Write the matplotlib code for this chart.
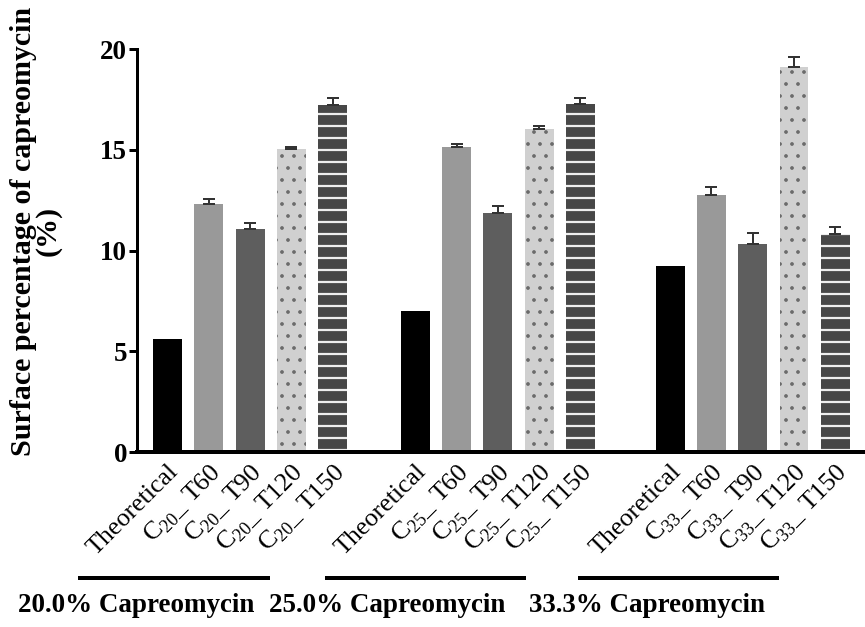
import matplotlib
matplotlib.use('Agg')
import matplotlib.pyplot as plt
import numpy as np

# data
groups = ['20.0% Capreomycin', '25.0% Capreomycin', '33.3% Capreomycin']
codes = ['20', '25', '33']
conditions = ['Theoretical', 'T60', 'T90', 'T120', 'T150']

theoretical = [5.6, 7.0, 9.23]
t60 = [12.29, 15.15, 12.77]
t90 = [11.07, 11.85, 10.34]
t120 = [15.04, 16.05, 19.09]
t150 = [17.22, 17.25, 10.80]

t60_err = [0.25, 0.15, 0.40]
t90_err = [0.28, 0.35, 0.51]
t120_err = [0.12, 0.15, 0.50]
t150_err = [0.33, 0.33, 0.38]

plt.rcParams['font.family'] = ['Liberation Serif', 'DejaVu Serif']
plt.rcParams['mathtext.fontset'] = 'custom'
plt.rcParams['mathtext.rm'] = 'Liberation Serif'

DPI = 72
fig = plt.figure(figsize=(865 / DPI, 627 / DPI), dpi=DPI)
ax = fig.add_axes([0.1584, 0.279, 1 - 0.1584, 0.6428])

group_start = [0, 6, 12.17]
width = 0.70

styles = [
    dict(color='#000000', linewidth=0),
    dict(color='#999999', linewidth=0),
    dict(color='#5e5e5e', linewidth=0),
    dict(facecolor='#d0d0d0', edgecolor='#6a6a6a', hatch='.', linewidth=0),
    dict(facecolor='#474747', edgecolor='#eeeeee', hatch='-', linewidth=0),
]
hatch_lw = [1.0, 1.0, 1.0, 1.3, 2.2]
values = [theoretical, t60, t90, t120, t150]
errors = [None, t60_err, t90_err, t120_err, t150_err]

xticks, xlabels = [], []
for k, cond in enumerate(conditions):
    xs = [g + k for g in group_start]
    with plt.rc_context({'hatch.linewidth': hatch_lw[k]}):
        ax.bar(xs, values[k], width, **styles[k])
    if errors[k] is not None:
        ax.errorbar(xs, values[k], yerr=[np.zeros(3), errors[k]], fmt='none',
                    ecolor='#333333', elinewidth=2, capsize=6, capthick=2)
    for gi, x in enumerate(xs):
        xticks.append(x)
        if cond == 'Theoretical':
            xlabels.append('Theoretical')
        else:
            xlabels.append('C$_{\\mathrm{%s}}$_ %s' % (codes[gi], cond))

ax.set_xticks(xticks)
ax.set_xticklabels(xlabels, rotation=45, ha='right', rotation_mode='anchor', fontsize=26)
ax.tick_params(axis='x', length=0, pad=8)

ax.set_ylim(0, 20)
ax.set_xlim(-0.738, 16.89)
ax.set_yticks([0, 5, 10, 15, 20])
ax.tick_params(axis='y', length=8, width=3, labelsize=27, pad=2)
for lab in ax.get_yticklabels():
    lab.set_fontweight('bold')

ax.spines['top'].set_visible(False)
ax.spines['right'].set_visible(False)
ax.spines['left'].set_linewidth(3)
ax.spines['bottom'].set_linewidth(4)

ax.set_ylabel('Surface percentage of capreomycin\n(%)', fontsize=30,
              fontweight='bold', linespacing=0.9)
ax.yaxis.set_label_coords(-0.103, 0.548)

# group underlines and labels below the tick labels
line_spans = [(-2.12, 2.43), (3.86, 8.63), (9.99, 14.76)]
label_x = [136, 387, 647]
for name, span, lx in zip(groups, line_spans, label_x):
    ax.plot(span, [-0.3127, -0.3127], color='black', linewidth=4, clip_on=False,
            transform=ax.get_xaxis_transform())
    fig.text(lx / 865, 1 - 606 / 627, name, fontsize=27, fontweight='bold',
             ha='center', va='center')

fig.savefig('out.png', dpi=DPI)
